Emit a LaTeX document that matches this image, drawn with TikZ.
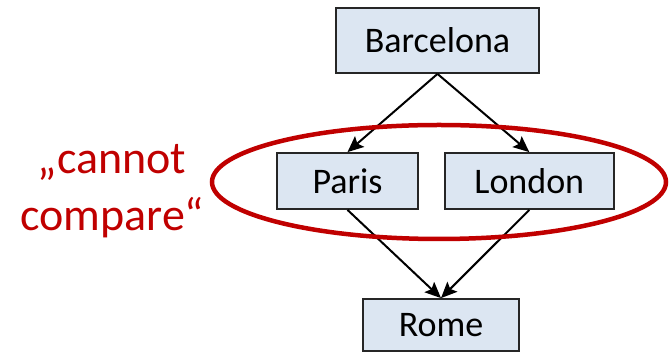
\documentclass[tikz,border=0pt]{standalone}
\usepackage{fontspec}
\setmainfont{Carlito}
\usetikzlibrary{arrows.meta}
\usetikzlibrary{positioning}

\definecolor{boxfill}{HTML}{DCE6F2}
\definecolor{darkred}{HTML}{C00000}

\begin{document}
\begin{tikzpicture}[x=1pt,y=1pt,
    city/.style={draw=black!85,fill=boxfill,line width=1.8pt,inner sep=0pt,
      font=\fontsize{36}{40}\selectfont},
    link/.style={-{Stealth[length=16pt,width=14pt,inset=3pt]},line width=2pt}]
  \useasboundingbox (0,0) rectangle (672,355);

  % the four cities
  \node[city,minimum width=203pt,minimum height=65pt] (barcelona) at (437.5,314.5) {Barcelona};
  \node[city,minimum width=141pt,minimum height=56pt] (paris) at (347.5,174) {Paris};
  \node[city,minimum width=169pt,minimum height=56pt] (london) [right=25pt of paris] {London};
  \node[city,minimum width=156pt,minimum height=52pt] (rome) at (441,30) {Rome};

  \path[link]
    (barcelona.south) edge (paris.north)
    (barcelona.south) edge (london.north)
    (paris.south) edge (rome.north)
    (london.south) edge (rome.north);

  % incomparable pair
  \coordinate (middle) at (439,173);
  \draw[darkred,line width=4.5pt] (middle) ellipse [x radius=227pt, y radius=57pt];
  \node[text=darkred,align=center,font=\fontsize{46}{57}\selectfont] (note) at (112,164) {„cannot\\compare“};
\end{tikzpicture}
\end{document}
